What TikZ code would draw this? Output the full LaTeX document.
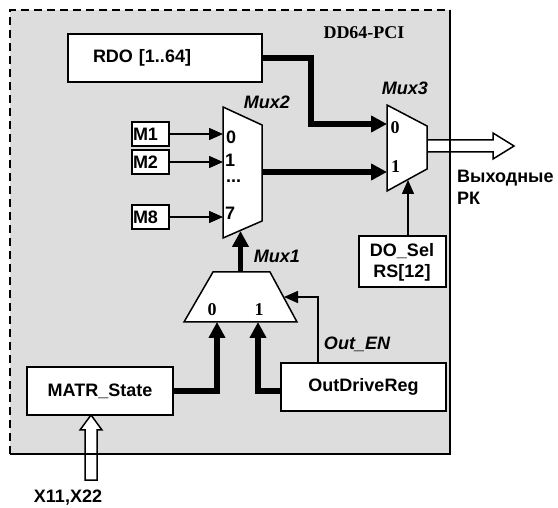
\documentclass[tikz,border=0pt]{standalone}
\usepackage{fontspec}
\setmainfont{Liberation Sans}
\newfontfamily\serifbf{Liberation Serif}
\usetikzlibrary{arrows.meta,calc}
\definecolor{panel}{RGB}{221,221,221}
\begin{document}
\begin{tikzpicture}[x=1pt,y=-1pt,
  box/.style={draw, line width=2pt, fill=white, inner sep=0pt,
    font=\fontsize{18}{21}\selectfont\bfseries},
  lbl/.style={inner sep=0pt, font=\fontsize{18}{22}\selectfont\bfseries},
  ilbl/.style={inner sep=0pt, font=\fontsize{18}{22}\selectfont\bfseries\itshape},
  slbl/.style={inner sep=0pt, font=\fontsize{18}{22}\selectfont\serifbf\bfseries},
  muxshape/.style={draw, line width=1.5pt, fill=white, line join=miter},
  sig/.style={line width=1.5pt, -{Triangle[length=14pt,width=12pt]}},
  bus/.style={line width=5.5pt, -{Triangle[length=16pt,width=16pt]}},
  hollow/.style={draw, line width=1.5pt, fill=white, line join=miter}]
\useasboundingbox (0,0) rectangle (558,508);

% panel background
\fill[panel] (10,10) rectangle (450,454);

% hollow arrows (drawn under the panel border)
\coordinate (outA) at (427,146);
\draw[hollow] (427,140) -- (493,140) -- (493,133) -- (514,146) -- (493,159) -- (493,152) -- (427,152);
\draw[hollow] (85,480) -- (85,430) -- (80,430) -- (91,415) -- (102,430) -- (97,430) -- (97,480) -- cycle;

% panel border
\draw[line width=2pt, dash pattern=on 8pt off 5pt] (10,454) -- (10,10) -- (450,10);
\draw[line width=2pt] (450,10) -- (450,454) -- (10,454);

\node[slbl] (title) at (364,33) {DD64-PCI};

% boxes
\node[box, minimum width=194pt, minimum height=48pt, text width=144pt, inner xsep=25pt, align=left] (rdo) at (165,58) {RDO [1..64]};
\node[box, minimum height=24pt, text width=35pt, inner xsep=1pt, align=left] (m1) at (150.5,134) {M1};
\node[box, minimum height=24pt, text width=35pt, inner xsep=1pt, align=left] (m2) at (150.5,162) {M2};
\node[box, minimum height=24pt, text width=35pt, inner xsep=1pt, align=left] (m8) at (150.5,217) {M8};
\node[box, minimum width=87pt, minimum height=51pt, align=center, font=\fontsize{18}{21}\selectfont\bfseries] (dosel) at (402,262) {DO\_Sel\\RS[12]};
\node[box, minimum width=146pt, minimum height=48pt] (matr) at (100,391) {MATR\_State};
\node[box, minimum width=165pt, minimum height=48pt] (odr) at (363.5,387) {OutDriveReg};

% multiplexers
\draw[muxshape] (223,107) -- (262,125) -- (262,221) -- (223,238) -- cycle;
\draw[muxshape] (387,105) -- (427,126) -- (427,169) -- (387,191) -- cycle;
\draw[muxshape] (213,272) -- (270,272) -- (297,322) -- (184,322) -- cycle;
\coordinate (mux2W) at (223,170);
\coordinate (mux2E) at (262,172);
\coordinate (mux2B) at (240.5,231);
\coordinate (mux3W0) at (387,124);
\coordinate (mux3W1) at (387,172);
\coordinate (mux3B) at (408,180);
\coordinate (mux1T) at (240.5,272);
\coordinate (mux1B0) at (217,322);
\coordinate (mux1B1) at (258,322);
\coordinate (mux1E) at (284,297);

\node[ilbl] (mux2lbl) at (267,102) {Mux2};
\node[ilbl] (mux3lbl) at (405,88) {Mux3};
\node[ilbl] (mux1lbl) at (277,256) {Mux1};

\node[lbl, anchor=west] (i0) at (226,137) {0};
\node[lbl, anchor=west] (i1) at (225,160) {1};
\node[lbl, anchor=west] (idots) at (226,181) {...};
\node[lbl, anchor=west] (i7) at (225,213) {7};
\node[slbl] (j0) at (395,128) {0};
\node[slbl] (j1) at (395.5,167) {1};
\node[slbl] (k0) at (212,310) {0};
\node[slbl] (k1) at (259,310) {1};

% connectors
\draw[sig] (m1.east) -- (m1.east -| mux2W);
\draw[sig] (m2.east) -- (m2.east -| mux2W);
\draw[sig] (m8.east) -- (m8.east -| mux2W);
\draw[bus] (rdo.east) -- (311,58) -- (311,124) -- (mux3W0);
\draw[bus] (mux2E) -- (mux3W1);
\draw[bus] (mux1T) -- (mux2B);
\draw[sig] (dosel.north -| mux3B) -- (mux3B);
\draw[bus] (matr.east) -| (mux1B0);
\draw[bus] (odr.west |- matr.east) -| (mux1B1);
\draw[sig] (odr.north -| 318,0) |- (mux1E);

\node[ilbl] (outen) at (357,344) {Out\_EN};
\node[lbl, anchor=west, align=left, font=\fontsize{18}{22}\selectfont\bfseries] (outlbl) at (457,187) {Выходные\\РК};
\node[lbl] (xlbl) at (68,498) {X11,X22};
\end{tikzpicture}
\end{document}
